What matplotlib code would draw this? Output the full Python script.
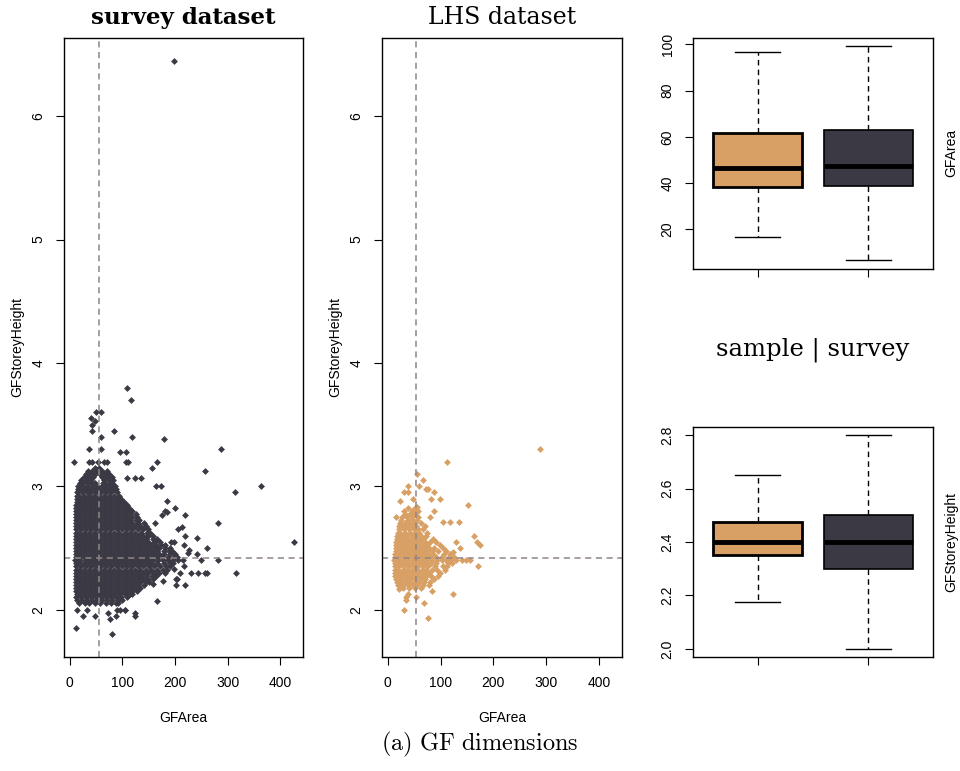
import matplotlib as mpl
import matplotlib.pyplot as plt

mpl.use('Agg')
plt.rcParams['font.family'] = ['Liberation Sans', 'DejaVu Sans']
plt.rcParams['mathtext.fontset'] = 'cm'

DARK = '#3b3a44'
ORANGE = '#d9a066'
REFLINE = '#8f8585'

# survey dataset: dense core, one row of GFArea values per storey height
survey_levels = [2.05, 2.075, 2.1, 2.125, 2.15, 2.175, 2.2, 2.225, 2.25, 2.275,
                 2.3, 2.325, 2.35, 2.375, 2.4, 2.425, 2.45, 2.475, 2.5, 2.525,
                 2.55, 2.575, 2.6, 2.625, 2.65, 2.675, 2.7, 2.725, 2.75, 2.775,
                 2.8, 2.825, 2.85, 2.875, 2.9, 2.925, 2.95, 2.975, 3.0, 3.025,
                 3.05, 3.075, 3.1, 3.125, 3.15]
survey_rows = [
    [18, 28, 37, 47, 58, 68, 79, 88],
    [14, 23, 33, 42, 52, 61, 71, 81, 92, 100],
    [12, 21, 30, 40, 49, 59, 68, 78, 88, 98, 108],
    [13, 17, 26, 36, 45, 55, 64, 74, 84, 94, 104, 114, 118],
    [12, 21, 31, 40, 50, 59, 69, 79, 89, 99, 109, 119, 128],
    [12, 17, 26, 36, 45, 55, 64, 74, 84, 94, 104, 114, 124, 134],
    [12, 21, 31, 40, 50, 59, 69, 79, 89, 99, 109, 119, 129, 140],
    [12, 17, 26, 36, 45, 55, 64, 74, 84, 94, 104, 114, 124, 134, 144, 151],
    [12, 21, 31, 40, 50, 59, 69, 79, 89, 99, 109, 119, 129, 139, 149, 158],
    [12, 17, 26, 36, 45, 55, 64, 74, 84, 94, 104, 114, 124, 134, 145, 156, 164],
    [12, 21, 31, 40, 50, 59, 69, 79, 89, 99, 109, 119, 129, 139, 149, 160, 170, 181],
    [12, 17, 26, 36, 45, 55, 64, 74, 84, 94, 104, 114, 124, 134, 144, 155, 166, 177, 185],
    [12, 21, 31, 40, 50, 59, 69, 79, 89, 99, 109, 119, 129, 139, 150, 160, 171, 182, 191],
    [12, 17, 26, 36, 45, 55, 64, 74, 84, 94, 104, 114, 124, 134, 144, 155, 166, 178, 190, 196],
    [10, 20, 30, 40, 50, 59, 69, 79, 89, 99, 109, 119, 129, 139, 149, 158, 168, 177, 187, 196, 206, 215],
    [12, 17, 26, 36, 45, 55, 64, 74, 84, 94, 104, 114, 124, 134, 144, 154, 165, 176, 187, 198, 204],
    [12, 21, 31, 40, 50, 59, 69, 79, 89, 99, 109, 119, 129, 139, 149, 159, 169, 179, 190, 200],
    [12, 17, 26, 36, 45, 55, 64, 74, 84, 94, 104, 114, 124, 134, 144, 155, 166, 178, 189, 195],
    [12, 21, 31, 40, 50, 59, 69, 79, 89, 99, 109, 119, 129, 139, 149, 159, 169, 180, 190],
    [12, 17, 26, 36, 45, 55, 64, 74, 84, 94, 104, 114, 124, 134, 144, 154, 164, 174, 180],
    [12, 21, 31, 40, 50, 59, 69, 79, 89, 99, 109, 119, 129, 139, 149, 160, 172],
    [12, 17, 26, 36, 45, 55, 64, 74, 84, 94, 104, 114, 124, 134, 145, 158, 165],
    [12, 21, 31, 40, 50, 59, 69, 79, 89, 99, 109, 119, 129, 139, 148, 158],
    [12, 17, 26, 36, 45, 55, 64, 74, 84, 94, 104, 114, 124, 135, 146, 152],
    [12, 21, 31, 40, 50, 59, 69, 79, 89, 99, 109, 119, 129, 139, 148],
    [12, 17, 26, 36, 45, 55, 64, 74, 84, 94, 104, 114, 124, 134, 145],
    [12, 21, 31, 40, 50, 59, 69, 79, 89, 99, 109, 119, 129, 140],
    [12, 17, 26, 36, 45, 55, 64, 74, 84, 94, 104, 115, 126, 132],
    [12, 21, 31, 40, 50, 59, 69, 79, 89, 99, 109, 119, 128],
    [12, 17, 26, 36, 45, 55, 64, 74, 84, 94, 104, 114, 125],
    [12, 21, 31, 40, 50, 59, 69, 79, 89, 99, 109, 118],
    [12, 17, 26, 36, 45, 55, 64, 74, 84, 94, 104, 112],
    [12, 21, 31, 40, 50, 59, 69, 79, 89, 99, 108],
    [13, 17, 26, 36, 45, 55, 64, 74, 84, 94, 102],
    [13, 21, 31, 40, 50, 59, 69, 79, 89, 97],
    [13, 17, 26, 36, 45, 55, 64, 74, 84, 93],
    [14, 23, 32, 41, 50, 59, 69, 79, 90],
    [15, 19, 28, 37, 46, 55, 65, 75, 84, 88],
    [15, 24, 33, 43, 52, 61, 70, 79, 86],
    [20, 25, 34, 43, 48, 63, 67, 76, 81],
    [22, 31, 40, 65, 74, 82],
    [26, 35, 44, 62, 71, 80],
    [30, 39, 48, 57, 66, 75],
    [34, 43, 52, 61, 70],
    [48, 56],
]
# survey dataset: scattered points outside the core
survey_out_area = [198, 108, 116, 49, 60, 40, 47, 43, 43, 83, 60, 118, 178, 36, 59,
                   96, 107, 8, 37, 42, 53, 65, 70, 107, 110, 166, 157, 257, 108, 123,
                   135, 163, 173, 364, 314, 288, 281, 426, 316, 281, 260, 242, 250, 243,
                   256, 261, 241, 227, 230, 218, 202, 202, 177, 166, 218, 199, 185, 214,
                   205, 197, 184, 11, 80, 14, 25, 47, 77, 87, 123, 124, 105, 90, 73, 32,
                   181, 175, 162, 193, 216, 209, 216, 197, 204, 158, 95, 104, 92, 225, 219]
survey_out_height = [6.45, 3.80, 3.70, 3.60, 3.60, 3.55, 3.53, 3.50, 3.45, 3.45, 3.40, 3.40, 3.38, 3.30, 3.30,
                     3.28, 3.28, 3.20, 3.20, 3.20, 3.20, 3.20, 3.20, 3.20, 3.20, 3.20, 3.15, 3.12, 3.07, 3.07,
                     3.07, 3.00, 3.00, 3.00, 2.95, 3.30, 2.70, 2.55, 2.30, 2.40, 2.50, 2.58, 2.40, 2.30,
                     2.30, 2.30, 2.45, 2.48, 2.30, 2.20, 2.20, 2.25, 2.23, 2.07, 2.77, 2.82, 2.88, 2.67,
                     2.65, 2.55, 2.79, 1.85, 1.80, 2.00, 1.95, 1.95, 1.92, 1.95, 1.95, 1.97, 2.00, 2.00, 1.97, 2.00,
                     2.80, 2.77, 2.70, 2.55, 2.52, 2.30, 2.35, 2.33, 2.25, 2.21, 2.00, 2.00, 2.05, 2.46, 2.60]

# LHS dataset
lhs_levels = [2.175, 2.2, 2.225, 2.25, 2.275, 2.3, 2.325, 2.35, 2.375, 2.4,
              2.425, 2.45, 2.475, 2.5, 2.525, 2.55, 2.575, 2.6, 2.625, 2.65,
              2.675, 2.7, 2.725, 2.75, 2.775, 2.8, 2.825]
lhs_rows = [
    [28, 40, 52, 62],
    [20, 29, 38, 47, 56, 66],
    [18, 24, 33, 42, 51, 60, 69, 80],
    [16, 25, 34, 43, 52, 61, 70, 88],
    [14, 19, 28, 37, 46, 55, 64, 73, 82, 95],
    [14, 23, 32, 41, 50, 59, 68, 78, 99],
    [14, 19, 28, 37, 46, 55, 64, 73, 83, 93, 108],
    [13, 22, 31, 40, 49, 58, 67, 76, 89, 104, 112],
    [13, 18, 27, 36, 45, 54, 63, 72, 81, 91, 114, 121],
    [12, 21, 30, 39, 48, 57, 66, 75, 84, 93, 102, 111, 120, 130, 140, 148, 156],
    [14, 19, 28, 37, 46, 55, 64, 73, 82, 92, 102, 116, 125],
    [14, 23, 32, 41, 50, 59, 68, 77, 86, 107, 118],
    [15, 20, 29, 38, 47, 56, 65, 74, 84, 95, 110],
    [15, 24, 33, 42, 51, 60, 69, 78, 88, 104],
    [15, 20, 29, 38, 47, 56, 65, 74, 98],
    [16, 25, 34, 43, 52, 61, 70, 80, 92],
    [17, 21, 30, 39, 48, 57, 66, 85],
    [18, 27, 36, 45, 54, 63, 72],
    [20, 24, 33, 42, 51, 60, 75],
    [22, 31, 40, 49, 58, 66],
    [22, 27, 36, 45, 54, 70],
    [23, 32, 41, 50, 62],
    [25, 38, 47, 56],
    [27, 36, 45, 58],
    [33, 42, 51],
    [30, 45, 58],
    [38, 52],
]
lhs_out_area = [288, 112, 56, 66, 60, 73, 77, 39, 30, 39, 87, 47, 82, 98, 23, 151, 55, 88,
                16, 80, 105, 117, 135, 164, 169, 174, 130, 136, 123, 170, 124, 68, 31,
                76, 83, 78, 39, 35, 23, 54, 22, 34]
lhs_out_height = [3.30, 3.20, 3.10, 3.05, 3.00, 2.98, 2.98, 3.00, 2.95, 2.95, 2.95, 2.90, 2.90, 2.90, 2.88, 2.85, 2.83, 2.80,
                  2.75, 2.75, 2.71, 2.71, 2.71, 2.60, 2.55, 2.52, 2.55, 2.50, 2.47, 2.35, 2.13, 2.05, 2.00,
                  1.93, 2.15, 2.20, 2.13, 2.10, 2.19, 2.10, 2.17, 2.08]

# reference lines (median area / median height)
survey_vline, survey_hline = 55, 2.42
lhs_vline, lhs_hline = 54, 2.42

# boxplot summaries: whisker low, Q1, median, Q3, whisker high
box_groups = ['sample', 'survey']
area_sample = [16.5, 38.4, 46.6, 61.7, 96.5]
area_survey = [6.6, 38.9, 47.2, 62.9, 99.1]
height_sample = [2.175, 2.35, 2.40, 2.475, 2.65]
height_survey = [2.0, 2.3, 2.4, 2.5, 2.8]


def flatten(levels, rows, out_x, out_y):
    xs, ys = [], []
    for h, row in zip(levels, rows):
        xs += row
        ys += [h] * len(row)
    return xs + out_x, ys + out_y


def style_axes(ax):
    for s in ax.spines.values():
        s.set_linewidth(1.0)
    ax.tick_params(direction='out', length=5.5, width=0.8, labelsize=10, pad=8)
    ax.tick_params(axis='y', labelrotation=90)
    for lab in ax.get_yticklabels():
        lab.set_va('center')


def scatter_panel(ax, xs, ys, color, vline, hline, title, weight, size):
    ax.plot(xs, ys, linestyle='none', marker='D', markersize=3.5,
            markeredgewidth=0, color=color)
    ax.axvline(vline, color=REFLINE, lw=1.1, dashes=(4, 3))
    ax.axhline(hline, color=REFLINE, lw=1.1, dashes=(4, 3))
    ax.set_xlim(-11, 443)
    ax.set_ylim(1.616, 6.635)
    ax.set_xticks([0, 100, 200, 300, 400])
    ax.set_yticks([2, 3, 4, 5, 6])
    style_axes(ax)
    ax.set_xlabel('GFArea', fontsize=10)
    ax.set_ylabel('GFStoreyHeight', fontsize=10)
    ax.xaxis.set_label_coords(0.5, -0.087)
    ax.yaxis.set_label_coords(-0.165, 0.5)
    ax.set_title(title, family='DejaVu Serif', fontweight=weight,
                 fontsize=size, pad=10)


def box_panel(ax, s1, s2, ylim, yticks, ylabel, fmt):
    stats = []
    for name, v in zip(box_groups, [s1, s2]):
        stats.append(dict(label=name, whislo=v[0], q1=v[1], med=v[2], q3=v[3], whishi=v[4]))
    bp = ax.bxp(stats, positions=[1, 2], widths=0.8, patch_artist=True,
                showfliers=False, capwidths=0.4,
                whiskerprops=dict(color='black', lw=1.0, dashes=(4, 3)),
                capprops=dict(color='black', lw=1.0),
                medianprops=dict(color='black', lw=3.5, solid_capstyle='butt'))
    for box, fc, lw in zip(bp['boxes'], [ORANGE, DARK], [2.0, 1.2]):
        box.set_facecolor(fc)
        box.set_edgecolor('black')
        box.set_linewidth(lw)
    ax.set_xlim(0.42, 2.58)
    ax.set_ylim(*ylim)
    ax.set_yticks(yticks)
    ax.set_yticklabels([fmt.format(t) for t in yticks])
    ax.set_xticks([1, 2])
    ax.set_xticklabels(['', ''])
    style_axes(ax)
    ax.yaxis.set_label_position('right')
    ax.set_ylabel(ylabel, fontsize=10)
    ax.yaxis.set_label_coords(1.047, 0.5)


fig = plt.figure(figsize=(9.6, 7.71), dpi=100)
ax1 = fig.add_axes([0.0667, 0.1479, 0.249, 0.8029])
ax2 = fig.add_axes([0.3979, 0.1479, 0.2497, 0.8029])
ax3 = fig.add_axes([0.7222, 0.6515, 0.2494, 0.2996])
ax4 = fig.add_axes([0.7222, 0.1474, 0.2494, 0.2991])

sx, sy = flatten(survey_levels, survey_rows, survey_out_area, survey_out_height)
lx, ly = flatten(lhs_levels, lhs_rows, lhs_out_area, lhs_out_height)
scatter_panel(ax1, sx, sy, DARK, survey_vline, survey_hline, 'survey dataset', 'bold', 16.5)
scatter_panel(ax2, lx, ly, ORANGE, lhs_vline, lhs_hline, 'LHS dataset', 'normal', 17)

box_panel(ax3, area_sample, area_survey, (2.96, 102.9), [20, 40, 60, 80, 100], 'GFArea', '{:g}')
box_panel(ax4, height_sample, height_survey, (1.968, 2.832), [2.0, 2.2, 2.4, 2.6, 2.8],
          'GFStoreyHeight', '{:.1f}')

fig.text(0.8469, 0.547, 'sample | survey', ha='center', va='center',
         family='DejaVu Serif', fontsize=17.5)
fig.text(0.5, 0.035, r'$\mathrm{(a)\ GF\ dimensions}$', ha='center', va='center', fontsize=17.5)

fig.savefig('out.png', dpi=100)
